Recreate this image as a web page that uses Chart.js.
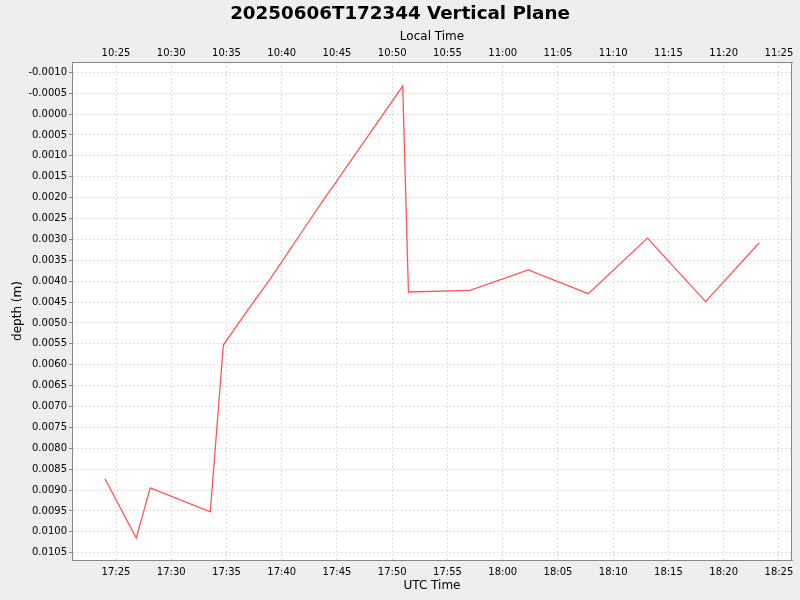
<!DOCTYPE html>
<html>
<head>
<meta charset="utf-8">
<script src="https://cdn.jsdelivr.net/npm/chart.js@4/dist/chart.umd.min.js"></script>
<style>
  html, body { margin: 0; padding: 0; background: #eeeeee; }
  #wrap { width: 800px; height: 600px; }
</style>
</head>
<body>
<div id="wrap"><canvas id="c" width="800" height="600"></canvas></div>
<script>
// ---- data ----
const chartTitle = "20250606T172344 Vertical Plane";
const utcTimes = ["17:24:00","17:26:50","17:28:06","17:33:32","17:34:43","17:36:57","17:38:52","17:40:00",
                  "17:42:06","17:44:04","17:44:58","17:45:34","17:50:57","17:51:28","17:57:02","18:02:19",
                  "18:07:45","18:13:06","18:18:22","18:23:13"];
const depths = [0.00873, 0.01015, 0.00895, 0.00952, 0.00553, 0.00468, 0.00398, 0.00354,
                0.00271, 0.00194, 0.00161, 0.00138, -0.00067, 0.00426, 0.00422, 0.00373,
                0.00430, 0.00297, 0.00449, 0.00308];
const utcTickLabels = ["17:25","17:30","17:35","17:40","17:45","17:50","17:55","18:00","18:05","18:10","18:15","18:20","18:25"];
const localTickLabels = ["10:25","10:30","10:35","10:40","10:45","10:50","10:55","11:00","11:05","11:10","11:15","11:20","11:25"];
const yTickValues = [-0.0010,-0.0005,0.0000,0.0005,0.0010,0.0015,0.0020,0.0025,0.0030,0.0035,0.0040,0.0045,
                     0.0050,0.0055,0.0060,0.0065,0.0070,0.0075,0.0080,0.0085,0.0090,0.0095,0.0100,0.0105];
const xRange = ["17:21:01", "18:26:11"];
const yRange = [-0.001246, 0.010675];

// minutes since 17:00
function toMin(s) {
  const p = s.split(":").map(Number);
  return (p[0] - 17) * 60 + p[1] + (p.length > 2 ? p[2] / 60 : 0);
}
const points = utcTimes.map((t, i) => ({ x: toMin(t), y: depths[i] }));
const xMin = toMin(xRange[0]), xMax = toMin(xRange[1]);
const utcTickVals = utcTickLabels.map(toMin);

const FONT = "'DejaVu Sans', sans-serif";

const bgPlugin = {
  id: 'bg',
  beforeDraw(chart) {
    const { ctx, chartArea: a } = chart;
    ctx.save();
    ctx.fillStyle = '#eeeeee';
    ctx.fillRect(0, 0, chart.width, chart.height);
    ctx.fillStyle = '#ffffff';
    ctx.fillRect(a.left, a.top, a.right - a.left, a.bottom - a.top);
    ctx.restore();
  },
  afterDraw(chart) {
    const { ctx, chartArea: a } = chart;
    ctx.save();
    ctx.strokeStyle = '#888888';
    ctx.lineWidth = 1;
    ctx.strokeRect(a.left + 0.5, a.top + 0.5, a.right - a.left - 1, a.bottom - a.top);
    ctx.restore();
  }
};

new Chart(document.getElementById('c'), {
  type: 'line',
  data: {
    datasets: [{
      data: points,
      borderColor: '#ff5555',
      borderWidth: 1.3,
      pointRadius: 0,
      fill: false,
      tension: 0
    }]
  },
  options: {
    responsive: false,
    animation: false,
    devicePixelRatio: 1,
    layout: { padding: 0 },
    plugins: {
      legend: { display: false },
      tooltip: { enabled: false },
      title: {
        display: true,
        text: chartTitle,
        color: '#000000',
        font: { family: FONT, size: 18.3, weight: 'bold' },
        padding: { top: 3, bottom: 0 }
      }
    },
    scales: {
      x: {
        type: 'linear',
        position: 'bottom',
        min: xMin, max: xMax,
        afterBuildTicks(scale) { scale.ticks = utcTickVals.map(v => ({ value: v })); },
        afterFit(scale) { scale.height = 40; },
        ticks: {
          autoSkip: false, maxRotation: 0, padding: 6,
          color: '#000000', font: { family: FONT, size: 10 },
          callback(v, i) { return utcTickLabels[i]; }
        },
        grid: { color: '#dddddd', lineWidth: 1, drawTicks: false },
        border: { display: true, color: '#888888', dash: [2, 2] },
        title: {
          display: true, text: 'UTC Time', color: '#000000',
          font: { family: FONT, size: 12 }, padding: { top: 0, bottom: 7 }
        }
      },
      xTop: {
        type: 'linear',
        position: 'top',
        min: xMin, max: xMax,
        afterBuildTicks(scale) { scale.ticks = utcTickVals.map(v => ({ value: v })); },
        afterFit(scale) { scale.height = 62 - 24.96; },
        ticks: {
          autoSkip: false, maxRotation: 0, padding: 3,
          color: '#000000', font: { family: FONT, size: 10 },
          callback(v, i) { return localTickLabels[i]; }
        },
        grid: { display: false, drawTicks: false },
        border: { display: true, color: '#888888' },
        title: {
          display: true, text: 'Local Time', color: '#000000',
          font: { family: FONT, size: 12 }, padding: { top: 5, bottom: 0 }
        }
      },
      y: {
        type: 'linear',
        position: 'left',
        reverse: true,
        min: yRange[0], max: yRange[1],
        afterBuildTicks(scale) { scale.ticks = yTickValues.map(v => ({ value: v })); },
        afterFit(scale) { scale.width = 72; },
        ticks: {
          autoSkip: false, padding: 2,
          color: '#000000', font: { family: FONT, size: 10 },
          callback(v) { return Number(v).toFixed(4); }
        },
        grid: { color: '#dddddd', lineWidth: 1, drawTicks: true, tickLength: 3, tickColor: '#888888' },
        border: { display: true, color: '#888888', dash: [2, 2] },
        title: {
          display: true, text: 'depth (m)', color: '#000000',
          font: { family: FONT, size: 12 }, padding: { top: 11, bottom: 0 }
        }
      },
      yRight: {
        type: 'linear',
        position: 'right',
        display: true,
        min: yRange[0], max: yRange[1],
        afterFit(scale) { scale.width = 8; },
        ticks: { display: false },
        grid: { display: false, drawTicks: false },
        border: { display: false }
      }
    }
  },
  plugins: [bgPlugin]
});
</script>
</body>
</html>
